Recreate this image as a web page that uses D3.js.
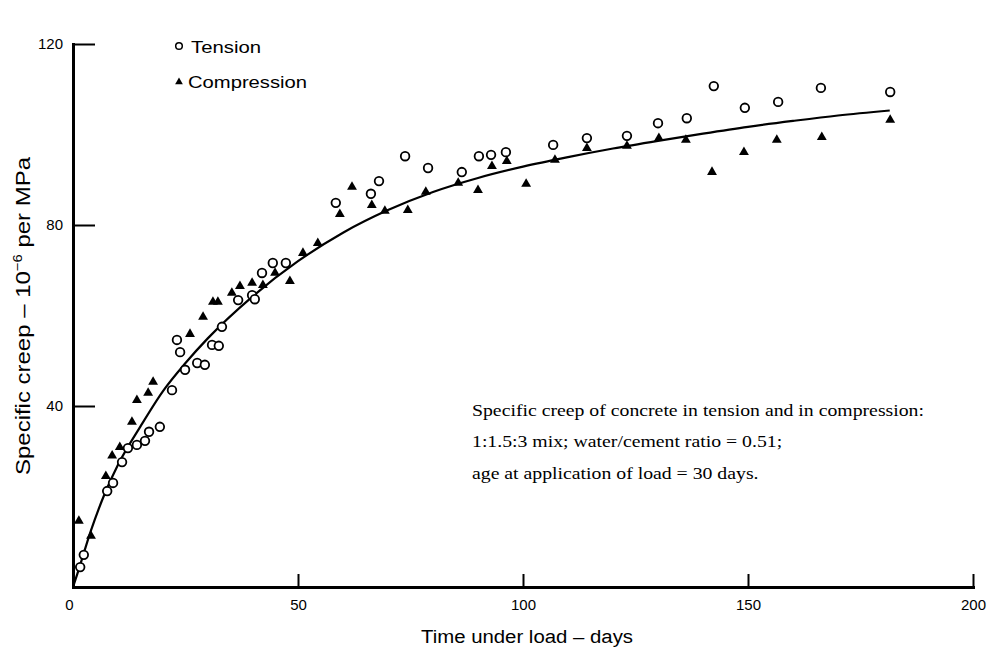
<!DOCTYPE html>
<html>
<head>
<meta charset="utf-8">
<script src="https://cdn.jsdelivr.net/npm/d3@7/dist/d3.min.js"></script>
<style>
  html, body { margin: 0; padding: 0; background: #ffffff; }
  svg { display: block; }
</style>
</head>
<body>
<svg id="chart" width="997" height="653"></svg>
<script>
// ---- Data ----
const tensionDays   = [1.6, 2.4, 7.6, 8.9, 10.9, 12.2, 14.2, 16.0, 16.9, 19.3, 22.0, 23.1, 23.8, 24.9, 27.6, 29.3, 30.9, 32.4, 33.1, 36.7, 39.8, 40.4, 42.0, 44.4, 47.3, 58.4, 66.2, 68.0, 73.8, 78.9, 86.4, 90.2, 92.9, 96.2, 106.7, 114.2, 123.1, 130.0, 136.4, 142.4, 149.3, 156.7, 166.2, 181.6];
const tensionValues = [4.4, 7.1, 21.2, 23.0, 27.6, 30.7, 31.4, 32.3, 34.3, 35.4, 43.5, 54.6, 51.9, 48.0, 49.5, 49.1, 53.5, 53.3, 57.5, 63.4, 64.5, 63.6, 69.4, 71.6, 71.6, 84.9, 86.9, 89.7, 95.2, 92.6, 91.7, 95.2, 95.5, 96.1, 97.7, 99.2, 99.7, 102.5, 103.6, 110.7, 105.9, 107.2, 110.3, 109.4];

const compressionDays   = [1.3, 4.0, 7.3, 8.7, 10.4, 13.1, 14.2, 16.7, 17.8, 26.0, 28.9, 31.1, 32.2, 35.3, 37.1, 39.8, 42.2, 44.9, 48.2, 51.1, 54.4, 59.3, 62.0, 66.4, 69.3, 74.4, 78.4, 85.6, 90.0, 93.1, 96.4, 100.7, 107.1, 114.2, 123.1, 130.2, 136.2, 142.0, 149.1, 156.4, 166.4, 181.6];
const compressionValues = [14.6, 11.3, 24.5, 29.0, 30.9, 36.5, 41.3, 42.9, 45.3, 55.9, 59.7, 63.0, 63.0, 65.0, 66.5, 67.2, 66.7, 69.4, 67.6, 73.8, 76.0, 82.4, 88.4, 84.4, 83.1, 83.3, 87.3, 89.3, 87.7, 93.0, 94.1, 89.1, 94.4, 97.0, 97.5, 99.2, 98.8, 91.7, 96.1, 98.8, 99.4, 103.2];

const curveDays   = [0, 1, 4, 7, 10, 15, 20, 25, 30, 40, 50, 60, 70, 80, 90, 100, 110, 120, 130, 140, 150, 160, 170, 181.5];
const curveValues = [0, 3, 12.5, 20.5, 27, 35.5, 43.3, 49.5, 55, 64.3, 72, 78.3, 83.3, 87.3, 90.4, 92.9, 95, 96.9, 98.6, 100.2, 101.7, 103, 104.2, 105.3];

const xTicks = [0, 50, 100, 150, 200];
const yTicks = [0, 40, 80, 120];

const legendLabels = ["Tension", "Compression"];
const xTitle = "Time under load \u2013 days";
const annotationLines = [
  "Specific creep of concrete in tension and in compression:",
  "1:1.5:3 mix; water/cement ratio = 0.51;",
  "age at application of load = 30 days."
];

// ---- Layout ----
const svg = d3.select("#chart");
const sans = "'Liberation Sans', Arial, Helvetica, sans-serif";
const serif = "'Liberation Serif', 'Times New Roman', serif";

const x = d3.scaleLinear().domain([0, 200]).range([73, 973]);
const y = d3.scaleLinear().domain([0, 120]).range([587, 44]);

// Axes
const xAxis = d3.axisBottom(x).tickValues(xTicks).tickSizeInner(-13).tickSizeOuter(0).tickPadding(12)
  .tickFormat(d3.format("d"));
const yAxis = d3.axisLeft(y).tickValues(yTicks).tickSizeInner(-22).tickSizeOuter(0).tickPadding(10)
  .tickFormat(d => d === 0 ? "" : d3.format("d")(d));

const gx = svg.append("g").attr("transform", `translate(0,${y(0)})`).call(xAxis);
const gy = svg.append("g").attr("transform", `translate(${x(0)},0)`).call(yAxis);

[gx, gy].forEach(g => {
  g.select(".domain").attr("stroke", "#000").attr("stroke-width", 3).attr("stroke-linecap", "square");
  g.selectAll(".tick line").attr("stroke", "#000").attr("stroke-width", 2);
  g.selectAll(".tick text").attr("fill", "#000").style("font-family", sans).style("font-size", "15px");
});
gx.selectAll(".tick text").attr("dy", "0.71em");
gx.selectAll(".tick").filter(d => d === 0).select("text").attr("dx", "-4");

// Fitted curve
const curvePts = curveDays.map((d, i) => [d, curveValues[i]]);
const line = d3.line().x(d => x(d[0])).y(d => y(d[1])).curve(d3.curveMonotoneX);
svg.append("path").datum(curvePts).attr("d", line)
  .attr("fill", "none").attr("stroke", "#000").attr("stroke-width", 2.2);

// Tension points (open circles)
svg.append("g").selectAll("circle")
  .data(tensionDays.map((d, i) => [d, tensionValues[i]]))
  .join("circle")
  .attr("cx", d => x(d[0])).attr("cy", d => y(d[1]))
  .attr("r", 4.3)
  .attr("fill", "#fff").attr("stroke", "#000").attr("stroke-width", 1.8);

// Compression points (filled triangles)
const tri = d3.symbol().type(d3.symbolTriangle).size(42);
svg.append("g").selectAll("path")
  .data(compressionDays.map((d, i) => [d, compressionValues[i]]))
  .join("path")
  .attr("d", tri)
  .attr("transform", d => `translate(${x(d[0])},${y(d[1])})`)
  .attr("fill", "#000");

// Legend
svg.append("circle").attr("cx", 179).attr("cy", 46).attr("r", 3.3)
  .attr("fill", "#fff").attr("stroke", "#000").attr("stroke-width", 1.5);
svg.append("text").attr("x", 191).attr("y", 53).text(legendLabels[0])
  .style("font-family", sans).style("font-size", "16px")
  .attr("textLength", 70).attr("lengthAdjust", "spacingAndGlyphs");
svg.append("path").attr("d", d3.symbol().type(d3.symbolTriangle).size(26))
  .attr("transform", "translate(179,82)").attr("fill", "#000");
svg.append("text").attr("x", 188).attr("y", 88).text(legendLabels[1])
  .style("font-family", sans).style("font-size", "16px")
  .attr("textLength", 119).attr("lengthAdjust", "spacingAndGlyphs");

// Axis titles
svg.append("text").attr("x", 421).attr("y", 643).text(xTitle)
  .style("font-family", sans).style("font-size", "18px")
  .attr("textLength", 212).attr("lengthAdjust", "spacingAndGlyphs");

const yt = svg.append("text")
  .attr("transform", "translate(30,316) rotate(-90)")
  .attr("text-anchor", "middle")
  .style("font-family", sans).style("font-size", "21px")
  .attr("textLength", 318).attr("lengthAdjust", "spacingAndGlyphs");
yt.append("tspan").text("Specific creep \u2013 10");
yt.append("tspan").text("\u22126").attr("dy", "-8").style("font-size", "13px");
yt.append("tspan").text(" per MPa").attr("dy", "8");

// Annotation
const ann = svg.append("g");
const annBase = [416, 447, 479];
const annTexts = ann.selectAll("text").data(annotationLines).join("text")
  .attr("x", 472).attr("y", (d, i) => annBase[i])
  .text(d => d)
  .style("font-family", serif).style("font-size", "17px").attr("fill", "#000");
const nat = annTexts.nodes().map(n => n.getComputedTextLength());
const ratio = 452 / nat[0];
annTexts.attr("textLength", (d, i) => nat[i] * ratio).attr("lengthAdjust", "spacingAndGlyphs");
</script>
</body>
</html>
